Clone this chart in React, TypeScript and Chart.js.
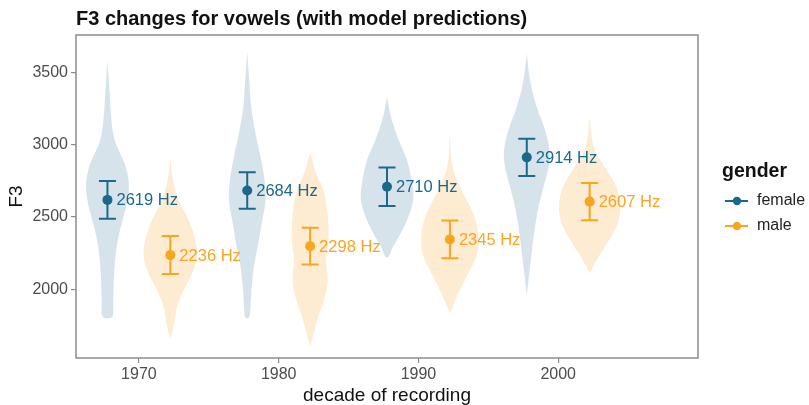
import React, { useEffect, useRef } from "react";
import { Chart, registerables } from "chart.js";

Chart.register(...registerables);

// ---- data ----
const decades = [1970, 1980, 1990, 2000];
const genders = ["female", "male"];

const femaleMeans = [2619, 2684, 2710, 2914];
const femaleLower = [2488, 2557, 2577, 2784];
const femaleUpper = [2750, 2811, 2843, 3044];

const maleMeans = [2236, 2298, 2345, 2607];
const maleLower = [2104, 2171, 2214, 2477];
const maleUpper = [2368, 2425, 2476, 2737];

const yTicks = [2000, 2500, 3000, 3500];

// violin profiles: [F3, density]
const femaleViolin1970 = [[3587, 0], [3379, 2], [3148, 4.3], [3033, 7.3], [2940, 12.7], [2848, 18.3], [2732, 21.3], [2617, 20], [2501, 16], [2386, 11.7], [2270, 8.7], [2109, 6.7], [1924, 5.7], [1808, 4.7]];
const femaleViolin1980 = [[3645, 0], [3448, 2], [3263, 4], [3079, 8.3], [2917, 13.3], [2755, 17.3], [2617, 18.3], [2478, 15], [2340, 11.7], [2155, 6.7], [1970, 4], [1815, 2.5], [1800, 1]];
const femaleViolin1990 = [[3333, 0], [3194, 4], [3033, 11.7], [2894, 20], [2732, 25], [2617, 26], [2478, 20], [2363, 11.7], [2293, 6], [2224, 1.5]];
const femaleViolin2000 = [[3633, 0], [3448, 3.3], [3263, 10], [3102, 18.3], [2963, 22.7], [2848, 21.7], [2709, 16.7], [2570, 11.7], [2386, 7.3], [2201, 4], [2062, 1.7], [1960, 0]];

const maleViolin1970 = [[2906, 0], [2755, 2.7], [2617, 8.3], [2478, 18.3], [2340, 25], [2224, 26.7], [2109, 21.7], [1993, 13.3], [1877, 6.7], [1762, 4], [1658, 0]];
const maleViolin1980 = [[2952, 0], [2802, 6], [2686, 13.3], [2525, 17.3], [2340, 18.3], [2200, 16], [2060, 17.5], [1930, 14], [1808, 8], [1693, 3.5], [1600, 0]];
const maleViolin1990 = [[3079, 0], [2848, 2.7], [2686, 11.7], [2525, 23.3], [2386, 28.3], [2247, 27.3], [2109, 18.3], [1970, 8.3], [1831, 0]];
const maleViolin2000 = [[3194, 0], [2986, 4], [2848, 15], [2709, 26.7], [2570, 30.7], [2432, 26.7], [2293, 15], [2178, 5], [2109, 0]];

const femaleViolins = [femaleViolin1970, femaleViolin1980, femaleViolin1990, femaleViolin2000];
const maleViolins = [maleViolin1970, maleViolin1980, maleViolin1990, maleViolin2000];

// ---- styling ----
const FONT = "'Liberation Sans', Arial, Helvetica, sans-serif";
const femaleColor = "#19698c";
const maleColor = "#f9a51f";
const femaleFill = "#d6e3eb";
const maleFill = "#fdebd2";
const dodge = 2.25; // years each gender is shifted from its decade
const densityToYears = 1 / 13.95;

type Group = {
  name: string;
  color: string;
  fill: string;
  offset: number;
  means: number[];
  lower: number[];
  upper: number[];
  violins: number[][][];
};

const groups: Group[] = [
  { name: genders[0], color: femaleColor, fill: femaleFill, offset: -dodge, means: femaleMeans, lower: femaleLower, upper: femaleUpper, violins: femaleViolins },
  { name: genders[1], color: maleColor, fill: maleFill, offset: dodge, means: maleMeans, lower: maleLower, upper: maleUpper, violins: maleViolins },
];

function violinOutline(center: number, profile: number[][]) {
  const right = profile.map(([f, d]) => ({ x: center + d * densityToYears, y: f }));
  const left = profile
    .slice()
    .reverse()
    .map(([f, d]) => ({ x: center - d * densityToYears, y: f }));
  return [...right, ...left, right[0]];
}

const decorations = {
  id: "decorations",
  beforeDatasetDraw(chart: any, args: any) {
    const meta = args.meta;
    if (meta.type !== "scatter") return;
    const g: Group = chart.data.datasets[args.index].group;
    const { ctx } = chart;
    const xs = chart.scales.x;
    const ys = chart.scales.y;
    ctx.save();
    ctx.strokeStyle = g.color;
    ctx.lineWidth = 2;
    decades.forEach((d, i) => {
      const x = xs.getPixelForValue(d + g.offset);
      const y0 = ys.getPixelForValue(g.lower[i]);
      const y1 = ys.getPixelForValue(g.upper[i]);
      ctx.beginPath();
      ctx.moveTo(x, y0);
      ctx.lineTo(x, y1);
      ctx.moveTo(x - 8.5, y0);
      ctx.lineTo(x + 8.5, y0);
      ctx.moveTo(x - 8.5, y1);
      ctx.lineTo(x + 8.5, y1);
      ctx.stroke();
    });
    ctx.restore();
  },
  afterDatasetsDraw(chart: any) {
    const { ctx } = chart;
    const xs = chart.scales.x;
    const ys = chart.scales.y;
    ctx.save();
    ctx.font = `16.5px ${FONT}`;
    ctx.textAlign = "left";
    ctx.textBaseline = "middle";
    groups.forEach((g) => {
      ctx.fillStyle = g.color;
      decades.forEach((d, i) => {
        const x = xs.getPixelForValue(d + g.offset);
        const y = ys.getPixelForValue(g.means[i]);
        ctx.fillText(`${g.means[i]} Hz`, x + 9, y + 1);
      });
    });
    ctx.restore();
  },
  afterDraw(chart: any) {
    const { ctx, chartArea } = chart;
    ctx.save();
    // panel border
    ctx.strokeStyle = "#8c8c8c";
    ctx.lineWidth = 1.5;
    ctx.strokeRect(chartArea.left, chartArea.top, chartArea.right - chartArea.left, chartArea.bottom - chartArea.top);

    // plot title
    ctx.fillStyle = "#111";
    ctx.font = `bold 20px ${FONT}`;
    ctx.textAlign = "left";
    ctx.textBaseline = "middle";
    ctx.fillText("F3 changes for vowels (with model predictions)", chartArea.left, 19);

    // legend
    const lx = chartArea.right + 24;
    ctx.font = `bold 19.5px ${FONT}`;
    ctx.fillText("gender", lx, 172);
    groups.forEach((g, i) => {
      const y = 201 + i * 25;
      ctx.strokeStyle = g.color;
      ctx.lineWidth = 2;
      ctx.beginPath();
      ctx.moveTo(lx + 3, y);
      ctx.lineTo(lx + 26, y);
      ctx.stroke();
      ctx.fillStyle = g.color;
      ctx.beginPath();
      ctx.arc(lx + 15, y, 4.2, 0, Math.PI * 2);
      ctx.fill();
      ctx.fillStyle = "#222";
      ctx.font = `16px ${FONT}`;
      ctx.fillText(g.name, lx + 35, y);
    });
    ctx.restore();
  },
};

export default function App() {
  const canvasRef = useRef<HTMLCanvasElement | null>(null);

  useEffect(() => {
    if (!canvasRef.current) return;

    const violinSets = groups.flatMap((g) =>
      decades.map((d, i) => ({
        type: "line" as const,
        data: violinOutline(d + g.offset, g.violins[i]),
        backgroundColor: g.fill,
        borderColor: "rgba(0,0,0,0)",
        borderWidth: 0,
        pointRadius: 0,
        tension: 0.35,
        fill: "shape",
        order: 2,
      }))
    );

    const pointSets = groups.map((g) => ({
      type: "scatter" as const,
      data: decades.map((d, i) => ({ x: d + g.offset, y: g.means[i] })),
      backgroundColor: g.color,
      borderWidth: 0,
      pointRadius: 5,
      order: 0,
      group: g,
    }));

    const chart = new Chart(canvasRef.current, {
      type: "scatter",
      data: { datasets: [...violinSets, ...pointSets] as any },
      options: {
        animation: false,
        responsive: false,
        events: [],
        layout: { padding: { left: 0, right: 111, top: 35, bottom: 0 } },
        plugins: { legend: { display: false }, tooltip: { enabled: false }, title: { display: false } },
        scales: {
          x: {
            type: "linear",
            min: 1965.5,
            max: 2010,
            afterBuildTicks: (s: any) => {
              s.ticks = decades.map((v) => ({ value: v }));
            },
            afterFit: (s: any) => {
              s.height = 47;
            },
            grid: { drawOnChartArea: false, tickLength: 5, color: "#8c8c8c", lineWidth: 1.2 },
            border: { display: false },
            ticks: { color: "#4d4d4d", font: { family: FONT, size: 16 }, padding: 2, callback: (v: any) => String(v) },
            title: { display: true, text: "decade of recording", color: "#111", font: { family: FONT, size: 19, lineHeight: 1.0 }, padding: { top: 0, bottom: 0 } },
          },
          y: {
            type: "linear",
            min: 1522,
            max: 3763,
            afterBuildTicks: (s: any) => {
              s.ticks = yTicks.map((v) => ({ value: v }));
            },
            afterFit: (s: any) => {
              s.width = 76;
            },
            grid: { drawOnChartArea: false, tickLength: 5, color: "#8c8c8c", lineWidth: 1.2 },
            border: { display: false },
            ticks: { color: "#4d4d4d", font: { family: FONT, size: 16 }, padding: 3, callback: (v: any) => String(v) },
            title: { display: true, text: "F3", color: "#111", font: { family: FONT, size: 19, lineHeight: 1.0 }, padding: { top: 7, bottom: 0 } },
          },
        },
      },
      plugins: [decorations],
    });

    return () => chart.destroy();
  }, []);

  return (
    <div style={{ position: "absolute", left: 0, top: 0, width: 809, height: 405, background: "#fff" }}>
      <canvas ref={canvasRef} width={809} height={405} />
    </div>
  );
}
